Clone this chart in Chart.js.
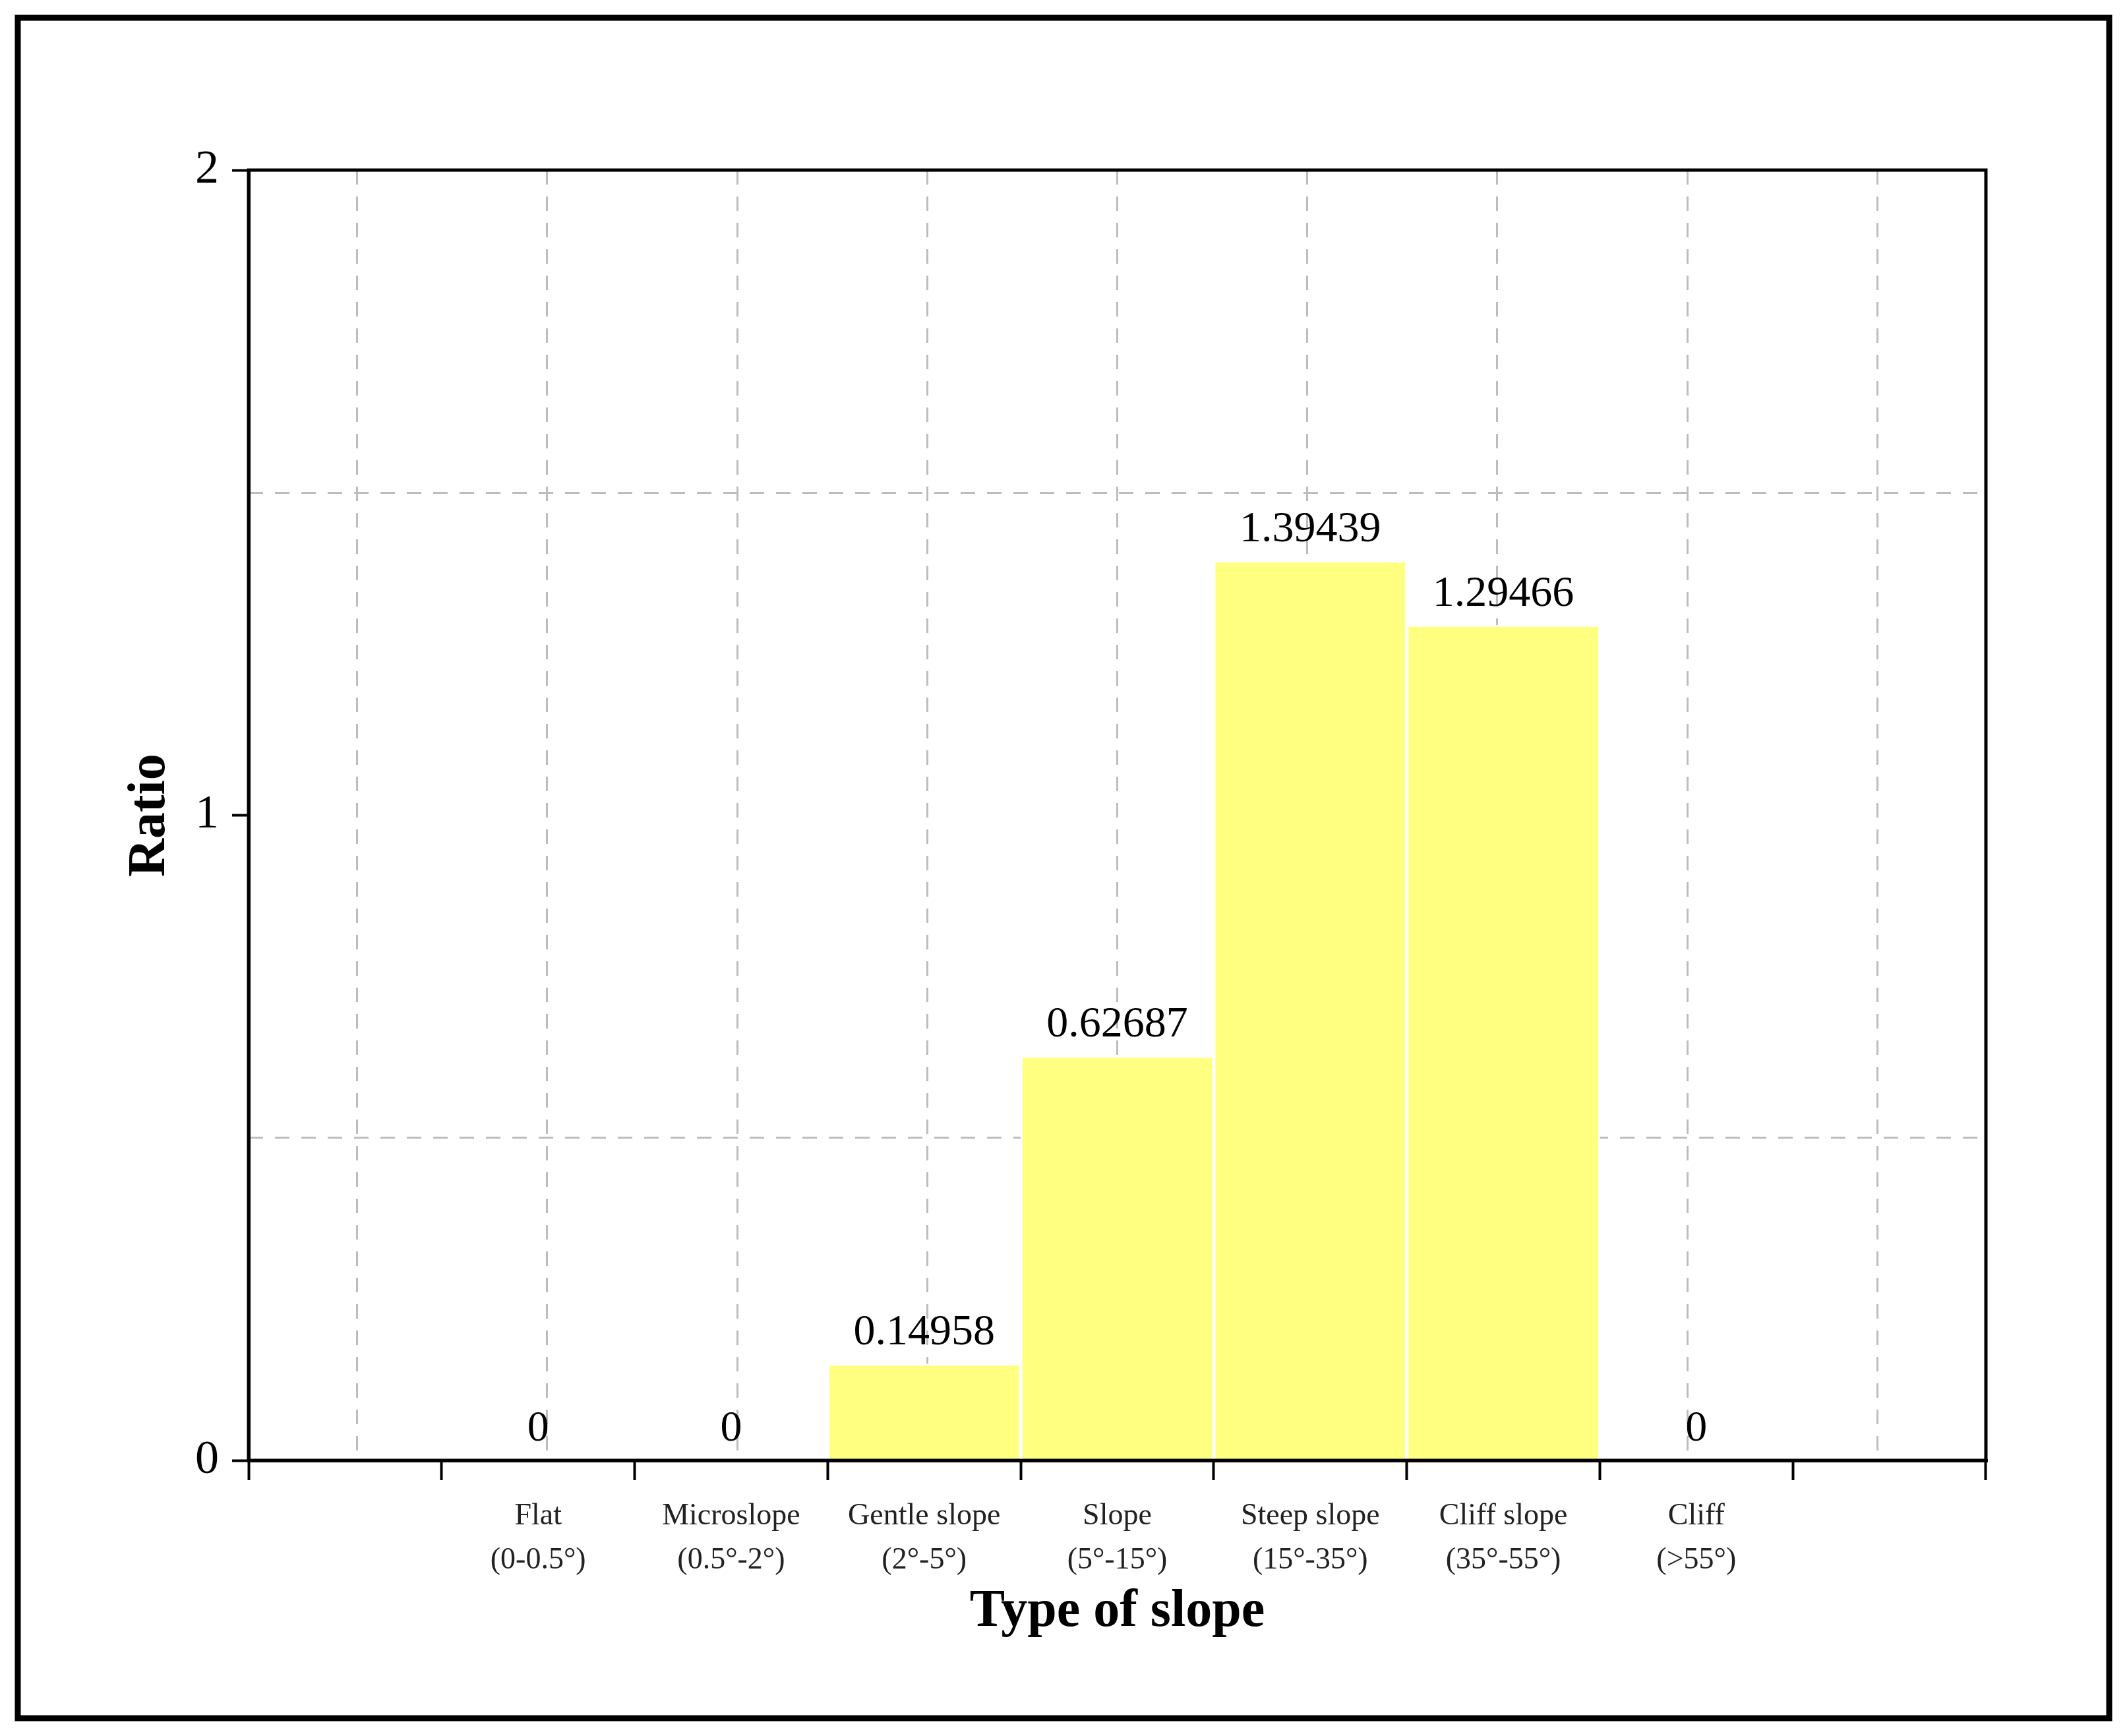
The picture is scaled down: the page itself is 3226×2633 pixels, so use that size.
<!DOCTYPE html>
<html><head><meta charset="utf-8">
<script src="https://cdn.jsdelivr.net/npm/chart.js@4"></script>
<style>html,body{margin:0;padding:0;background:#fff}canvas{display:block}</style>
</head><body>
<canvas id="c" width="3226" height="2633" style="width:3226px;height:2633px"></canvas>
<script>
const categories = [["Flat","(0-0.5°)"],["Microslope","(0.5°-2°)"],["Gentle slope","(2°-5°)"],["Slope","(5°-15°)"],["Steep slope","(15°-35°)"],["Cliff slope","(35°-55°)"],["Cliff","(>55°)"]];
const ratios = [0, 0, 0.14958, 0.62687, 1.39439, 1.29466, 0];
const valueLabels = ["0","0","0.14958","0.62687","1.39439","1.29466","0"];
const yTicks = [0, 1, 2];
const yGrid = [0.5, 1.5];

const FONT = "'Liberation Serif', 'Times New Roman', serif";
const points = ratios.map((v, i) => ({x: i + 1, y: v}));

const frame = {
  id: 'frame',
  afterDraw(chart) {
    const ctx = chart.ctx, a = chart.chartArea;
    ctx.save();
    ctx.strokeStyle = '#000';
    ctx.lineWidth = 5;
    ctx.strokeRect(a.left, a.top, a.right - a.left, a.bottom - a.top);
    ctx.lineWidth = 9;
    ctx.strokeRect(27, 27, 3226 - 54, 2633 - 54);
    const meta = chart.getDatasetMeta(0);
    ctx.fillStyle = '#000';
    ctx.font = '66px ' + FONT;
    ctx.textAlign = 'center';
    ctx.textBaseline = 'bottom';
    meta.data.forEach((el, i) => ctx.fillText(valueLabels[i], el.x, el.y - 14));
    ctx.restore();
  }
};

new Chart(document.getElementById('c'), {
  type: 'bar',
  data: { datasets: [{ data: points, backgroundColor: '#FFFF80', borderColor: '#ffffff', borderWidth: 3, barPercentage: 1, categoryPercentage: 1 }] },
  options: {
    responsive: false, animation: false, devicePixelRatio: 1,
    layout: { padding: { left: 0, top: 258, right: 214, bottom: 0 } },
    plugins: { legend: { display: false }, tooltip: { enabled: false } },
    scales: {
      x: {
        type: 'linear', min: 0, max: 8, position: 'bottom',
        afterBuildTicks: s => { s.ticks = [0,1,2,3,4,5,6,7,8].map(v => ({value: v})); },
        afterFit: s => { s.height = 418; },
        grid: { drawOnChartArea: false, color: '#000', lineWidth: 5, tickLength: 30, tickWidth: 4, tickColor: '#000' },
        border: { color: '#000', width: 5 },
        ticks: { color: '#222', font: { family: FONT, size: 46, lineHeight: 1.45 }, padding: 22, autoSkip: false, maxRotation: 0,
          callback: v => (v >= 1 && v <= 7) ? categories[v - 1] : '' },
        title: { display: true, text: 'Type of slope', color: '#000', font: { family: FONT, size: 80, weight: 'bold' }, padding: { top: 0, bottom: 140 } }
      },
      xg: {
        type: 'linear', min: 0, max: 8, position: 'bottom', display: true,
        afterBuildTicks: s => { s.ticks = [0.5,1.5,2.5,3.5,4.5,5.5,6.5,7.5].map(v => ({value: v})); },
        afterFit: s => { s.height = 0; },
        grid: { drawOnChartArea: true, drawTicks: false, color: '#bdbdbd', lineWidth: 3 },
        border: { display: false, dash: [22, 18] },
        ticks: { display: false }
      },
      y: {
        min: 0, max: 2,
        afterBuildTicks: s => { s.ticks = yTicks.map(v => ({value: v})); },
        afterFit: s => { s.width = 377; },
        grid: { drawOnChartArea: false, tickLength: 25, tickWidth: 4, tickColor: '#000' },
        border: { color: '#000', width: 5 },
        ticks: { color: '#000', font: { family: FONT, size: 72 }, padding: 20 },
        title: { display: true, text: 'Ratio', color: '#000', font: { family: FONT, size: 80, weight: 'bold' }, padding: { top: 180, bottom: 0 } }
      },
      yg: {
        min: 0, max: 2, position: 'left',
        afterBuildTicks: s => { s.ticks = yGrid.map(v => ({value: v})); },
        afterFit: s => { s.width = 0; },
        grid: { drawOnChartArea: true, drawTicks: false, color: '#bdbdbd', lineWidth: 3 },
        border: { display: false, dash: [22, 18] },
        ticks: { display: false }
      }
    }
  },
  plugins: [frame]
});
</script>
</body></html>
